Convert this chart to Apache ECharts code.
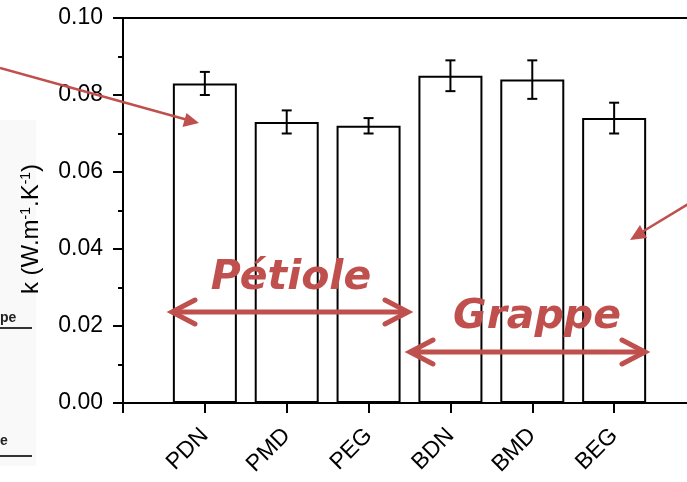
<!DOCTYPE html>
<html>
<head>
<meta charset="utf-8">
<script src="https://cdn.jsdelivr.net/npm/echarts@6/dist/echarts.min.js"></script>
<style>
html,body{margin:0;padding:0;background:#fff;}
#chart{width:687px;height:482px;}
</style>
</head>
<body>
<div id="chart"></div>
<script>
const categories = ['PDN', 'PMD', 'PEG', 'BDN', 'BMD', 'BEG'];
const values = [0.083, 0.073, 0.072, 0.085, 0.084, 0.074];
const errors = [0.003, 0.003, 0.002, 0.004, 0.005, 0.004];
const yTickLabels = ['0.00', '0.02', '0.04', '0.06', '0.08', '0.10'];
const yTitle = 'k (W.m{s|-1}.K{s|-1})';
const groupLabels = ['Pétiole', 'Grappe'];

const RED = '#c0504d';
const FONT = 'Liberation Sans, Arial, sans-serif';

const chart = echarts.init(document.getElementById('chart'), null, {renderer: 'canvas'});

const axisCats = [''].concat(categories, ['']);

const option = {
  animation: false,
  backgroundColor: '#fff',
  grid: {
    left: 123, right: -9, top: 18, bottom: 79,
    outerBoundsMode: 'none', containLabel: false,
    show: true, borderColor: '#000', borderWidth: 2, backgroundColor: 'transparent'
  },
  xAxis: {
    type: 'category',
    data: axisCats,
    boundaryGap: false,
    axisLine: {lineStyle: {color: '#000', width: 2}},
    axisTick: {show: true, interval: 0, length: 10, lineStyle: {color: '#000', width: 2}},
    axisLabel: {interval: 0, rotate: 45, fontSize: 23, fontFamily: FONT, color: '#000', margin: 29},
    splitLine: {show: false}
  },
  yAxis: {
    type: 'value',
    min: 0, max: 0.1, interval: 0.02,
    axisLine: {show: true, lineStyle: {color: '#000', width: 2}},
    axisTick: {show: true, length: 10, lineStyle: {color: '#000', width: 2}},
    minorTick: {show: true, splitNumber: 2, length: 5, lineStyle: {color: '#000', width: 2}},
    axisLabel: {
      fontSize: 23, fontFamily: FONT, color: '#000', margin: 20,
      formatter: function (v) { return yTickLabels[Math.round(v / 0.02)]; }
    },
    splitLine: {show: false}
  },
  series: [
    {
      type: 'bar',
      data: values.map(function (v, i) { return [i + 1, v]; }),
      barWidth: 64,
      itemStyle: {color: '#fff', borderColor: '#000', borderWidth: 2},
      z: 2
    },
    {
      type: 'custom',
      data: values.map(function (v, i) { return [i + 1, v - errors[i], v + errors[i]]; }),
      encode: {x: 0, y: [1, 2]},
      z: 3,
      renderItem: function (params, api) {
        const x = api.value(0);
        const lo = api.coord([x, api.value(1)]);
        const hi = api.coord([x, api.value(2)]);
        const hw = 5;
        const st = {stroke: '#000', lineWidth: 2};
        return {
          type: 'group',
          children: [
            {type: 'line', shape: {x1: lo[0], y1: lo[1], x2: hi[0], y2: hi[1]}, style: st},
            {type: 'line', shape: {x1: lo[0] - hw, y1: lo[1], x2: lo[0] + hw, y2: lo[1]}, style: st},
            {type: 'line', shape: {x1: hi[0] - hw, y1: hi[1], x2: hi[0] + hw, y2: hi[1]}, style: st}
          ]
        };
      }
    }
  ],
  graphic: [
    // faint fragment of neighbouring figure at left edge
    {type: 'rect', z: 0, silent: true, shape: {x: 0, y: 120, width: 36, height: 346}, style: {fill: '#f9f9f9'}},
    {type: 'text', z: 1, x: 0, y: 318, style: {text: 'pe', font: 'bold 14px ' + FONT, fill: '#222', verticalAlign: 'middle'}},
    {type: 'line', z: 1, shape: {x1: 0, y1: 328, x2: 32, y2: 328}, style: {stroke: '#333', lineWidth: 2}},
    {type: 'text', z: 1, x: 0, y: 441, style: {text: 'e', font: 'bold 14px ' + FONT, fill: '#222', verticalAlign: 'middle'}},
    {type: 'line', z: 1, shape: {x1: 0, y1: 456, x2: 32, y2: 456}, style: {stroke: '#333', lineWidth: 2}},
    // y axis title
    {type: 'text', z: 10, x: 31, y: 229, rotation: Math.PI / 2,
      style: {text: yTitle, font: '24px ' + FONT, fill: '#000', align: 'center', verticalAlign: 'middle',
        rich: {s: {fontSize: 14, fontFamily: FONT, verticalAlign: 'top', lineHeight: 24}}}},
    // top-left arrow
    {type: 'line', z: 50, shape: {x1: 0, y1: 68, x2: 186, y2: 119.5}, style: {stroke: RED, lineWidth: 2.5}},
    {type: 'polygon', z: 50, shape: {points: [[199, 123], [186.5, 113], [182.5, 127]]}, style: {fill: RED}},
    // right arrow
    {type: 'line', z: 50, shape: {x1: 690, y1: 203, x2: 642, y2: 232}, style: {stroke: RED, lineWidth: 2.5}},
    {type: 'polygon', z: 50, shape: {points: [[630, 240], [640, 225], [647, 238]]}, style: {fill: RED}},
    // Pétiole double arrow
    {type: 'line', z: 50, shape: {x1: 174, y1: 312, x2: 406, y2: 312}, style: {stroke: RED, lineWidth: 5}},
    {type: 'polyline', z: 50, shape: {points: [[195, 300], [172, 312], [195, 324]]}, style: {stroke: RED, lineWidth: 5, lineCap: 'round', fill: null}},
    {type: 'polyline', z: 50, shape: {points: [[385, 300], [408, 312], [385, 324]]}, style: {stroke: RED, lineWidth: 5, lineCap: 'round', fill: null}},
    // Grappe double arrow
    {type: 'line', z: 50, shape: {x1: 412, y1: 352, x2: 643, y2: 352}, style: {stroke: RED, lineWidth: 5}},
    {type: 'polyline', z: 50, shape: {points: [[433, 340], [410, 352], [433, 364]]}, style: {stroke: RED, lineWidth: 5, lineCap: 'round', fill: null}},
    {type: 'polyline', z: 50, shape: {points: [[622, 340], [645, 352], [622, 364]]}, style: {stroke: RED, lineWidth: 5, lineCap: 'round', fill: null}},
    // group labels
    {type: 'text', z: 50, x: 291, y: 278, style: {text: groupLabels[0], font: 'italic bold 41px DejaVu Sans', fill: RED, align: 'center', verticalAlign: 'middle'}},
    {type: 'text', z: 50, x: 537, y: 317, style: {text: groupLabels[1], font: 'italic bold 41px DejaVu Sans', fill: RED, align: 'center', verticalAlign: 'middle'}}
  ]
};

chart.setOption(option);
</script>
</body>
</html>
